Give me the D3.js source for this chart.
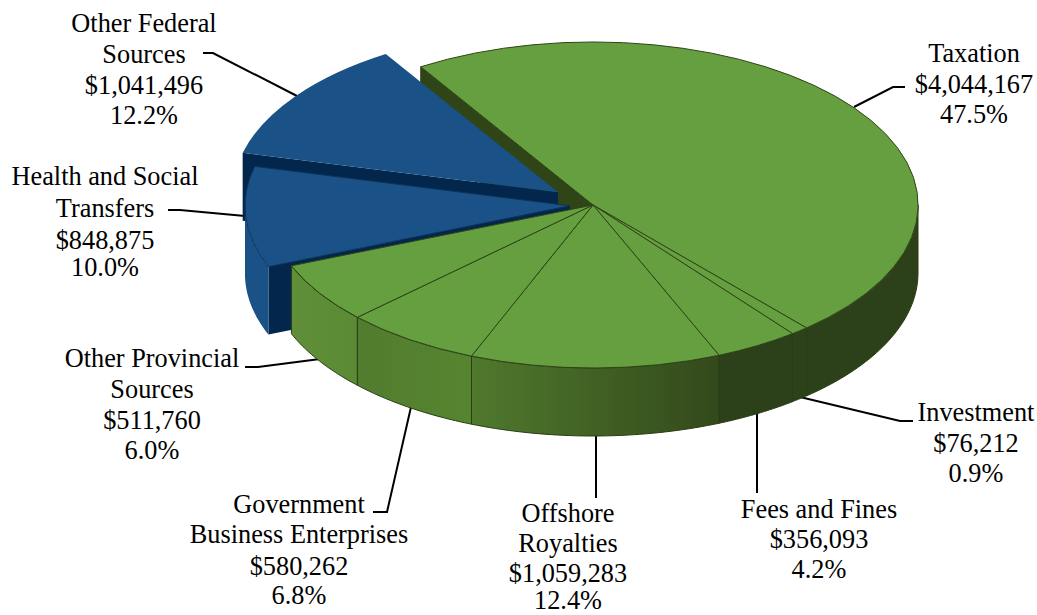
<!DOCTYPE html>
<html>
<head>
<meta charset="utf-8">
<script src="https://cdn.jsdelivr.net/npm/d3@7"></script>
<style>
  html, body { margin: 0; background: #fff; }
  text { font-family: "Liberation Serif", serif; font-size: 26.3px; fill: #000; }
</style>
</head>
<body>
<div id="container"></div>
<script>
// Chart data, clockwise from the Taxation slice
const categories = ["Taxation", "Investment", "Fees and Fines", "Offshore Royalties", "Government Business Enterprises", "Other Provincial Sources", "Health and Social Transfers", "Other Federal Sources"];
const amounts = [4044167, 76212, 356093, 1059283, 580262, 511760, 848875, 1041496];
const nameLines = [
  ["Taxation"],
  ["Investment"],
  ["Fees and Fines"],
  ["Offshore", "Royalties"],
  ["Government", "Business Enterprises"],
  ["Other Provincial", "Sources"],
  ["Health and Social", "Transfers"],
  ["Other Federal", "Sources"]
];

// Styles per slice
const explode = [0, 0, 0, 0, 0, 0, 0.071, 0.133];
const topColors = ["#669f3f", "#669f3f", "#669f3f", "#669f3f", "#669f3f", "#669f3f", "#1a5186", "#1a5186"];
const wallFrom = ["#2c4119", "#2c4119", "#2c4119", "#33491b", "#568530", "#5a8a34", "#1a5186", "#1a5186"];
const wallTo = ["#2c4119", "#2c4119", "#2c4119", "#4f792d", "#527c2e", "#618f39", "#1a5186", "#1a5186"];

// Label placement: centre x, baseline of each line, and leader line
const labelX = [974, 976, 819, 568, 299, 152, 105, 144];
const labelY = [
  [62, 93, 123],
  [421, 452, 482],
  [518, 548, 578],
  [522, 552, 582, 609],
  [513, 543, 575, 604],
  [367, 398, 429, 459],
  [185, 217, 249, 276],
  [32, 63, 94, 124]
];
const leaders = [
  [[854, 107], [893, 87], [905, 87]],
  [[800, 397], [900, 421], [913, 421]],
  [[757, 412], [757, 493]],
  [[596, 434], [596, 498]],
  [[411, 407], [387, 512], [373, 512]],
  [[320, 359], [258, 367], [245, 367]],
  [[245, 216], [180, 210], [168, 210]],
  [[297, 96], [213, 53], [203, 53]]
];

const width = 1037;
const height = 615;
const centerX = 593;
const centerY = 205;
const radiusX = 325;
const radiusY = 163;
const depth = 68;
const startDeg = 328;

const x = d3.scaleLinear().domain([-1, 1]).range([centerX - radiusX, centerX + radiusX]);
const y = d3.scaleLinear().domain([-1, 1]).range([centerY - radiusY, centerY + radiusY]);
const rad = d => d * Math.PI / 180;

const total = d3.sum(amounts);
const formatMoney = d3.format("$,");
const formatPct = d3.format(".1%");

const slices = d3.pie().sort(null)
  .startAngle(rad(startDeg))
  .endAngle(rad(startDeg + 360))(amounts)
  .map((s, i) => {
    const mid = (s.startAngle + s.endAngle) / 2;
    return {
      ...s,
      i,
      ox: Math.sin(mid) * explode[i],
      oy: -Math.cos(mid) * explode[i]
    };
  });

const svg = d3.select("#container").append("svg")
  .attr("width", width)
  .attr("height", height)
  .style("display", "block");

const defs = svg.append("defs");
const line = d3.line();

// point on the top surface (or lower by drop pixels)
const pt = (s, a, r, drop = 0) => [
  x(s.ox + Math.sin(a) * r),
  y(s.oy - Math.cos(a) * r) + drop
];

// flat cut face running from the slice apex out to the rim
function cutFace(s, a) {
  return line([pt(s, a, 0), pt(s, a, 1), pt(s, a, 1, depth), pt(s, a, 0, depth)]) + "Z";
}

// outer wall, only the front half of the ellipse can be seen
function wall(s) {
  const a0 = Math.max(s.startAngle, rad(450));
  const a1 = Math.min(s.endAngle, rad(630));
  if (a1 <= a0) return null;
  const steps = d3.range(0, 41).map(k => a0 + (a1 - a0) * k / 40);
  const upper = steps.map(a => pt(s, a, 1));
  const lower = steps.slice().reverse().map(a => pt(s, a, 1, depth));
  return line(upper.concat(lower)) + "Z";
}

const arc = d3.arc().innerRadius(0).outerRadius(1);

function drawTop(s, stroke) {
  svg.append("path")
    .attr("d", arc(s))
    .attr("transform", `translate(${x(s.ox)},${y(s.oy)}) scale(${radiusX},${radiusY})`)
    .attr("fill", topColors[s.i])
    .attr("stroke", stroke)
    .attr("stroke-width", 1)
    .attr("vector-effect", "non-scaling-stroke");
}

function drawWall(s, stroke) {
  const d = wall(s);
  if (!d) return;
  const a0 = Math.max(s.startAngle, rad(450));
  const a1 = Math.min(s.endAngle, rad(630));
  const gx = [pt(s, a0, 1)[0], pt(s, a1, 1)[0]];
  const grad = defs.append("linearGradient")
    .attr("id", "wall" + s.i)
    .attr("gradientUnits", "userSpaceOnUse")
    .attr("x1", gx[0]).attr("x2", gx[1])
    .attr("y1", 0).attr("y2", 0);
  grad.append("stop").attr("offset", 0).attr("stop-color", wallFrom[s.i]);
  grad.append("stop").attr("offset", 1).attr("stop-color", wallTo[s.i]);
  svg.append("path")
    .attr("d", d)
    .attr("fill", `url(#wall${s.i})`)
    .attr("stroke", stroke)
    .attr("stroke-width", 1);
}

// leaders go behind the pie
svg.append("g").selectAll("path")
  .data(leaders)
  .join("path")
  .attr("d", d => line(d))
  .attr("fill", "none")
  .attr("stroke", "#000")
  .attr("stroke-width", 2);

const green = slices.slice(0, 6);
const otherFederal = slices[7];
const health = slices[6];

// Taxation cut face shows through the gap left by the pulled out blue slice
svg.append("path")
  .attr("d", cutFace(slices[0], slices[0].startAngle))
  .attr("fill", "#2f4518")
  .attr("stroke", "#2a3d14");

// Pulled out slices, back one first
svg.append("path")
  .attr("d", cutFace(otherFederal, otherFederal.startAngle))
  .attr("fill", "#03264d");
drawTop(otherFederal, "none");

svg.append("path")
  .attr("d", cutFace(health, health.startAngle))
  .attr("fill", "#03264d");
drawWall(health, "none");
drawTop(health, "#0f3257");

// Green body
green.forEach(s => drawWall(s, "#2a3d14"));
green.forEach(s => drawTop(s, "#2f4518"));

// Labels
const labels = svg.append("g").selectAll("text")
  .data(slices)
  .join("text")
  .attr("text-anchor", "middle");

labels.selectAll("tspan")
  .data(d => nameLines[d.i].concat([formatMoney(d.value), formatPct(d.value / total)])
    .map((t, k) => ({ t, k, i: d.i })))
  .join("tspan")
  .attr("x", d => labelX[d.i])
  .attr("y", d => labelY[d.i][d.k])
  .text(d => d.t);
</script>
</body>
</html>
